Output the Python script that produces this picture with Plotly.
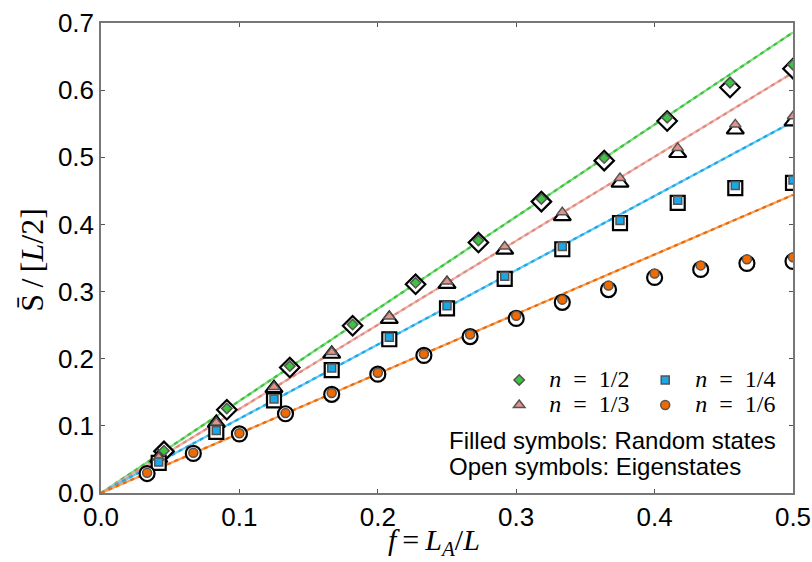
import plotly.graph_objects as go

# ---- data ----
f_half = [0.0455, 0.0909, 0.1364, 0.1818, 0.2273, 0.2727, 0.3182, 0.3636, 0.4091, 0.4545, 0.5]
rand_half = [0.063, 0.126, 0.189, 0.251, 0.313, 0.376, 0.438, 0.499, 0.559, 0.611, 0.638]
eig_half = [0.062, 0.124, 0.187, 0.249, 0.311, 0.373, 0.434, 0.495, 0.554, 0.604, 0.632]

f_third = [0.0417, 0.0833, 0.125, 0.1667, 0.2083, 0.25, 0.2917, 0.3333, 0.375, 0.4167, 0.4583, 0.5]
rand_third = [0.053, 0.105, 0.158, 0.210, 0.263, 0.315, 0.367, 0.418, 0.469, 0.514, 0.549, 0.561]
eig_third = [0.052, 0.104, 0.156, 0.207, 0.259, 0.311, 0.362, 0.412, 0.462, 0.506, 0.541, 0.553]

f_quarter = [0.0417, 0.0833, 0.125, 0.1667, 0.2083, 0.25, 0.2917, 0.3333, 0.375, 0.4167, 0.4583, 0.5]
rand_quarter = [0.046, 0.093, 0.140, 0.186, 0.232, 0.279, 0.323, 0.367, 0.406, 0.436, 0.458, 0.466]
eig_quarter = [0.045, 0.091, 0.138, 0.183, 0.229, 0.275, 0.319, 0.363, 0.402, 0.432, 0.454, 0.462]

f_sixth = [0.0333, 0.0667, 0.1, 0.1333, 0.1667, 0.2, 0.2333, 0.2667, 0.3, 0.3333, 0.3667, 0.4, 0.4333, 0.4667, 0.5]
rand_sixth = [0.030, 0.060, 0.089, 0.119, 0.149, 0.179, 0.207, 0.236, 0.264, 0.288, 0.309, 0.327, 0.339, 0.348, 0.351]
eig_sixth = [0.029, 0.059, 0.088, 0.118, 0.147, 0.177, 0.205, 0.233, 0.260, 0.284, 0.303, 0.321, 0.333, 0.342, 0.345]

line_f = [0.0, 0.5]
line_half = [0.0, 0.686]
line_third = [0.0, 0.626]
line_quarter = [0.0, 0.553]
line_sixth = [0.0, 0.444]

labels = ["<i>n</i>\u2002=\u20021/2", "<i>n</i>\u2002=\u20021/3",
          "<i>n</i>\u2002=\u20021/4", "<i>n</i>\u2002=\u20021/6"]
line_light = ["#7ddc7d", "#eeb0a6", "#66c9f2", "#f5a060"]
line_dark = ["#3cc43c", "#e08a80", "#1aa8e8", "#ee6a00"]
fill_cols = ["#3ec43e", "#e4928a", "#1aa8e8", "#f06a00"]
symbols = ["diamond", "triangle-up", "square", "circle"]
open_sizes = [15, 15, 14, 15]
fill_sizes = [8, 10, 8, 9]

series = [
    (f_half, rand_half, eig_half, line_half),
    (f_third, rand_third, eig_third, line_third),
    (f_quarter, rand_quarter, eig_quarter, line_quarter),
    (f_sixth, rand_sixth, eig_sixth, line_sixth),
]

fig = go.Figure()

# lines first
for i, (fx, r, e, ln) in enumerate(series):
    fig.add_trace(go.Scatter(x=line_f, y=ln, mode="lines", showlegend=False,
                             line=dict(color=line_light[i], width=2.2), hoverinfo="skip"))
    fig.add_trace(go.Scatter(x=line_f, y=ln, mode="lines", showlegend=False,
                             line=dict(color=line_dark[i], width=2.2, dash="4px,4px"), hoverinfo="skip"))

# open symbols (eigenstates)
for i, (fx, r, e, ln) in enumerate(series):
    fig.add_trace(go.Scatter(x=fx, y=e, mode="markers", showlegend=False,
                             marker=dict(symbol=symbols[i], size=open_sizes[i], color="white",
                                         line=dict(color="black", width=2.2))))

# filled symbols (random states)
legend_names = ["legend", "legend", "legend2", "legend2"]
for i, (fx, r, e, ln) in enumerate(series):
    fig.add_trace(go.Scatter(
        x=fx, y=r, mode="markers", legend=legend_names[i],
        name='<span style="font-size:24px">' + labels[i] + '</span>',
        marker=dict(symbol=symbols[i], size=fill_sizes[i], color=fill_cols[i],
                    line=dict(color="#555555", width=1.5))))

axis_common = dict(showline=True, linecolor="#777777", linewidth=1.5, mirror="ticks",
                   ticks="inside", ticklen=4, tickcolor="#555555", showgrid=False, zeroline=False,
                   tickfont=dict(family="Liberation Sans", size=26, color="black"))

legend_common = dict(xanchor="left", yanchor="middle", bgcolor="rgba(0,0,0,0)",
                     font=dict(family="Liberation Serif", size=17, color="black"),
                     itemwidth=50, tracegroupgap=0)

fig.update_layout(
    width=812, height=562,
    margin=dict(l=101, r=19, t=23, b=69, autoexpand=False),
    paper_bgcolor="white", plot_bgcolor="white",
    xaxis=dict(range=[0, 0.5], tickvals=[0, 0.1, 0.2, 0.3, 0.4, 0.5], tickformat=".1f", **axis_common),
    yaxis=dict(range=[0, 0.7], tickvals=[0, 0.1, 0.2, 0.3, 0.4, 0.5, 0.6, 0.7], tickformat=".1f", **axis_common),
    legend=dict(x=0.561, y=0.213, **legend_common),
    legend2=dict(x=0.772, y=0.213, **legend_common),
    annotations=[
        dict(text="Filled symbols: Random states", xref="paper", yref="paper", x=0.5, y=0.112,
             xanchor="left", yanchor="middle", showarrow=False,
             font=dict(family="Liberation Sans", size=24, color="black")),
        dict(text="Open symbols: Eigenstates", xref="paper", yref="paper", x=0.5, y=0.056,
             xanchor="left", yanchor="middle", showarrow=False,
             font=dict(family="Liberation Sans", size=24, color="black")),
        dict(text="<i>f</i>\u2009=\u2009<i>L</i><sub><i>A</i></sub>/<i>L</i>", xref="paper", yref="paper",
             x=0.481, y=-0.105, xanchor="center", yanchor="middle", showarrow=False,
             font=dict(family="Liberation Serif", size=30, color="black")),
        dict(text="S\u0304\u2009/\u2009[<i>L</i>/2]", xref="paper", yref="paper",
             x=-0.1, y=0.496, xanchor="center", yanchor="middle", showarrow=False, textangle=-90,
             font=dict(family="Liberation Serif", size=32, color="black")),
    ],
)

fig.write_html("out.html")
